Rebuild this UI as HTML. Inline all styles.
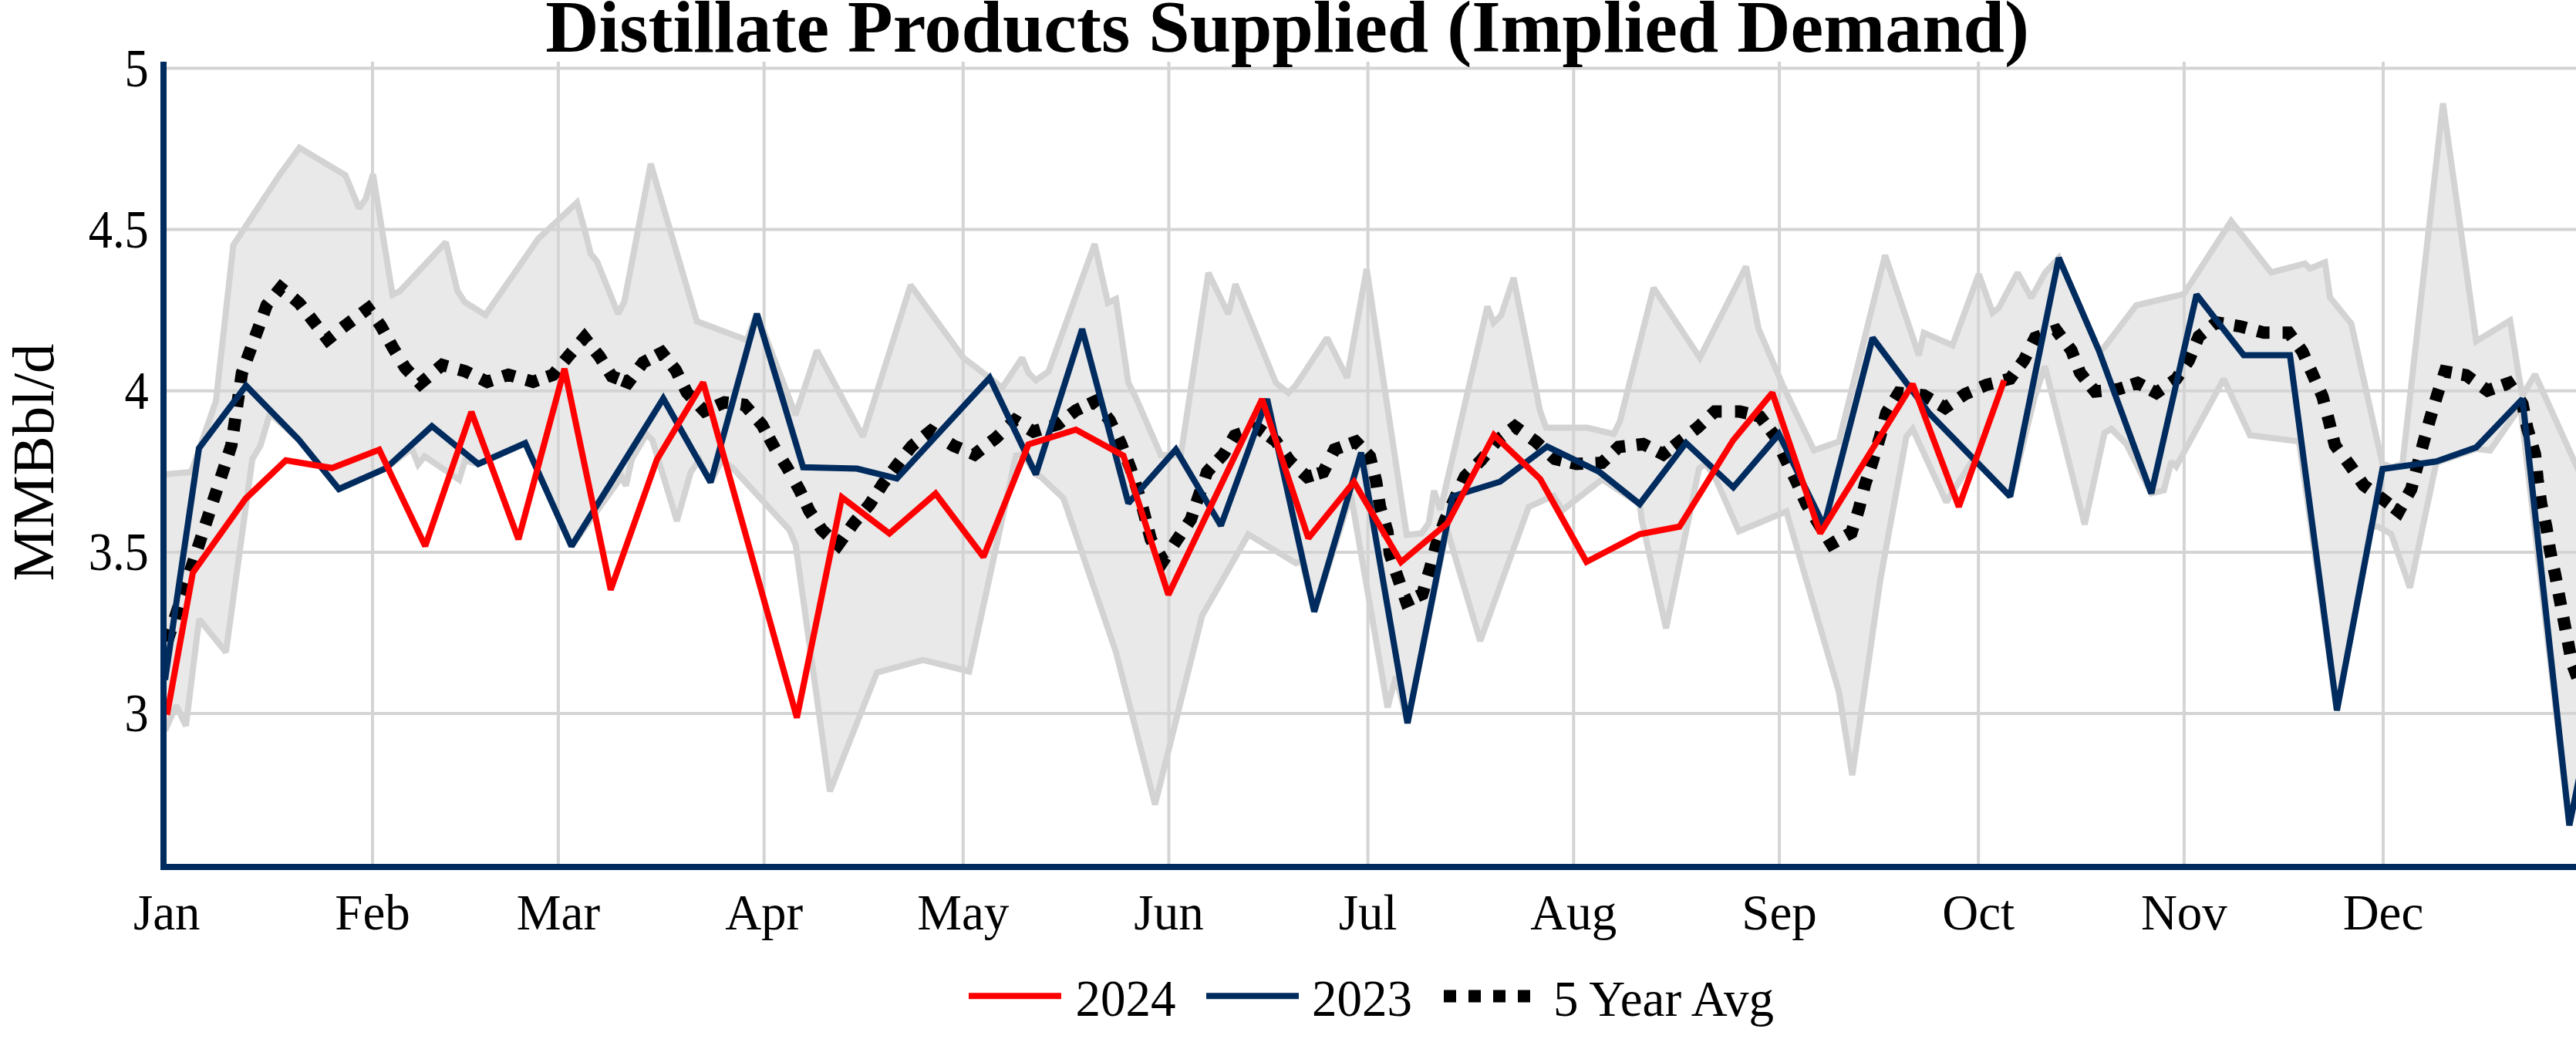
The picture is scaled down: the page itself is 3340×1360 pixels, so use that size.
<!DOCTYPE html>
<html><head><meta charset="utf-8"><style>html,body{margin:0;padding:0;background:#fff;overflow:hidden}svg{display:block}</style></head><body>
<svg width="3340" height="1360" viewBox="0 0 3340 1360">
<rect width="3340" height="1360" fill="#ffffff"/>
<defs><clipPath id="pc"><rect x="216" y="80" width="3124" height="1040"/></clipPath></defs>
<path d="M483.0,80 V1120 M723.9,80 V1120 M990.7,80 V1120 M1248.8,80 V1120 M1515.5,80 V1120 M1773.6,80 V1120 M2040.3,80 V1120 M2307.1,80 V1120 M2565.2,80 V1120 M2831.9,80 V1120 M3090.0,80 V1120 M216,88.4 H3340 M216,297.6 H3340 M216,506.7 H3340 M216,715.9 H3340 M216,925.0 H3340" stroke="#d4d4d4" stroke-width="4" fill="none"/>
<g clip-path="url(#pc)">
<path d="M214.0,615.0 L248.0,612.0 L280.0,520.0 L302.5,317.8 L362.1,227.2 L388.3,191.5 L447.9,227.2 L465.5,270.1 L474.1,258.2 L483.6,225.8 L508.9,382.2 L518.4,377.4 L578.0,314.0 L593.2,377.4 L602.8,391.7 L629.4,408.4 L697.8,309.6 L748.1,262.6 L759.4,303.1 L765.9,329.1 L774.0,338.8 L801.5,406.9 L809.6,390.6 L843.7,212.4 L903.6,416.6 L968.4,440.9 L981.4,406.9 L1031.5,538.0 L1059.2,454.4 L1118.7,566.0 L1180.7,369.6 L1249.2,463.9 L1283.2,489.8 L1299.4,502.8 L1325.3,463.9 L1333.4,483.3 L1343.1,493.0 L1359.4,481.7 L1419.3,316.4 L1436.5,392.6 L1446.9,387.7 L1463.0,496.3 L1472.8,515.7 L1505.2,590.0 L1531.0,590.0 L1566.8,353.7 L1592.7,407.2 L1601.8,368.3 L1654.3,496.3 L1670.5,509.3 L1680.2,499.5 L1720.7,438.0 L1746.6,489.8 L1772.0,348.8 L1823.9,693.4 L1843.0,691.5 L1852.5,678.2 L1859.3,636.2 L1867.7,661.0 L1928.5,397.5 L1936.6,418.5 L1946.3,408.8 L1962.5,360.2 L1996.6,532.0 L2004.7,554.6 L2058.1,554.6 L2092.2,562.7 L2100.3,546.5 L2144.0,373.2 L2204.0,463.9 L2263.9,345.6 L2280.2,426.6 L2313.0,502.8 L2351.9,583.8 L2384.3,572.5 L2444.2,331.0 L2488.0,460.6 L2494.4,431.5 L2531.7,447.7 L2565.7,355.3 L2583.6,405.6 L2591.7,399.0 L2616.0,353.7 L2633.8,386.1 L2651.6,353.7 L2669.4,334.3 L2721.3,454.2 L2727.8,451.0 L2769.9,395.8 L2831.5,381.3 L2892.9,286.7 L2944.8,353.1 L2988.6,341.8 L2995.1,348.3 L3014.5,340.2 L3021.0,385.6 L3048.6,419.6 L3089.0,601.0 L3100.0,606.0 L3115.0,601.5 L3167.5,134.0 L3210.7,442.3 L3254.5,415.6 L3265.8,487.0 L3270.7,513.0 L3286.9,485.3 L3350.0,625.0 L3350.0,980.0 L3331.4,1070.0 L3268.0,527.0 L3257.7,542.0 L3228.6,584.0 L3210.6,582.0 L3158.8,600.0 L3124.7,762.0 L3100.4,692.3 L3082.6,682.6 L3074.0,683.0 L3030.0,921.0 L2981.0,572.4 L2917.3,564.3 L2883.2,491.3 L2821.7,604.8 L2815.3,598.3 L2805.6,635.6 L2789.4,639.5 L2757.0,575.6 L2737.6,556.1 L2728.6,561.3 L2702.9,679.8 L2651.4,475.0 L2638.0,515.0 L2606.3,643.6 L2559.3,594.0 L2523.6,651.0 L2479.9,556.0 L2471.8,566.0 L2438.0,751.3 L2401.6,1005.0 L2384.3,897.0 L2316.2,663.1 L2254.5,688.7 L2223.0,617.2 L2211.6,601.5 L2203.0,607.2 L2160.2,814.5 L2128.7,674.4 L2126.0,653.5 L2077.2,621.5 L2025.8,661.5 L2014.3,642.9 L1982.1,657.2 L1919.2,831.0 L1876.0,686.0 L1825.0,937.5 L1810.0,877.0 L1799.1,917.0 L1751.5,641.0 L1704.0,793.0 L1688.0,727.0 L1680.2,730.1 L1618.6,692.9 L1558.6,798.3 L1497.6,1043.0 L1446.9,845.2 L1378.8,645.9 L1349.6,618.3 L1343.1,615.1 L1327.0,589.2 L1317.2,590.8 L1256.6,870.5 L1196.9,855.6 L1137.0,871.8 L1076.0,1026.0 L1031.6,706.3 L1023.5,686.9 L949.0,605.8 L936.0,596.0 L921.4,625.3 L906.9,596.1 L895.5,612.3 L877.7,675.5 L845.9,570.5 L838.3,562.9 L819.2,595.3 L811.6,629.6 L805.9,618.1 L741.0,708.2 L681.0,574.5 L620.2,601.5 L602.9,597.2 L595.3,622.0 L550.6,591.6 L542.2,602.1 L533.8,581.2 L500.3,607.2 L439.4,634.0 L387.0,569.6 L350.0,536.0 L337.5,578.0 L327.2,595.0 L292.9,845.6 L258.2,802.7 L241.0,941.0 L228.6,914.7 L214.0,947.0 Z" fill="#d3d3d3" fill-opacity="0.5" stroke="none"/>
<path d="M214.0,615.0 L248.0,612.0 L280.0,520.0 L302.5,317.8 L362.1,227.2 L388.3,191.5 L447.9,227.2 L465.5,270.1 L474.1,258.2 L483.6,225.8 L508.9,382.2 L518.4,377.4 L578.0,314.0 L593.2,377.4 L602.8,391.7 L629.4,408.4 L697.8,309.6 L748.1,262.6 L759.4,303.1 L765.9,329.1 L774.0,338.8 L801.5,406.9 L809.6,390.6 L843.7,212.4 L903.6,416.6 L968.4,440.9 L981.4,406.9 L1031.5,538.0 L1059.2,454.4 L1118.7,566.0 L1180.7,369.6 L1249.2,463.9 L1283.2,489.8 L1299.4,502.8 L1325.3,463.9 L1333.4,483.3 L1343.1,493.0 L1359.4,481.7 L1419.3,316.4 L1436.5,392.6 L1446.9,387.7 L1463.0,496.3 L1472.8,515.7 L1505.2,590.0 L1531.0,590.0 L1566.8,353.7 L1592.7,407.2 L1601.8,368.3 L1654.3,496.3 L1670.5,509.3 L1680.2,499.5 L1720.7,438.0 L1746.6,489.8 L1772.0,348.8 L1823.9,693.4 L1843.0,691.5 L1852.5,678.2 L1859.3,636.2 L1867.7,661.0 L1928.5,397.5 L1936.6,418.5 L1946.3,408.8 L1962.5,360.2 L1996.6,532.0 L2004.7,554.6 L2058.1,554.6 L2092.2,562.7 L2100.3,546.5 L2144.0,373.2 L2204.0,463.9 L2263.9,345.6 L2280.2,426.6 L2313.0,502.8 L2351.9,583.8 L2384.3,572.5 L2444.2,331.0 L2488.0,460.6 L2494.4,431.5 L2531.7,447.7 L2565.7,355.3 L2583.6,405.6 L2591.7,399.0 L2616.0,353.7 L2633.8,386.1 L2651.6,353.7 L2669.4,334.3 L2721.3,454.2 L2727.8,451.0 L2769.9,395.8 L2831.5,381.3 L2892.9,286.7 L2944.8,353.1 L2988.6,341.8 L2995.1,348.3 L3014.5,340.2 L3021.0,385.6 L3048.6,419.6 L3089.0,601.0 L3100.0,606.0 L3115.0,601.5 L3167.5,134.0 L3210.7,442.3 L3254.5,415.6 L3265.8,487.0 L3270.7,513.0 L3286.9,485.3 L3350.0,625.0" stroke="#d3d3d3" stroke-width="8" fill="none" stroke-linejoin="miter" stroke-miterlimit="2"/>
<path d="M214.0,947.0 L228.6,914.7 L241.0,941.0 L258.2,802.7 L292.9,845.6 L327.2,595.0 L337.5,578.0 L350.0,536.0 L387.0,569.6 L439.4,634.0 L500.3,607.2 L533.8,581.2 L542.2,602.1 L550.6,591.6 L595.3,622.0 L602.9,597.2 L620.2,601.5 L681.0,574.5 L741.0,708.2 L805.9,618.1 L811.6,629.6 L819.2,595.3 L838.3,562.9 L845.9,570.5 L877.7,675.5 L895.5,612.3 L906.9,596.1 L921.4,625.3 L936.0,596.0 L949.0,605.8 L1023.5,686.9 L1031.6,706.3 L1076.0,1026.0 L1137.0,871.8 L1196.9,855.6 L1256.6,870.5 L1317.2,590.8 L1327.0,589.2 L1343.1,615.1 L1349.6,618.3 L1378.8,645.9 L1446.9,845.2 L1497.6,1043.0 L1558.6,798.3 L1618.6,692.9 L1680.2,730.1 L1688.0,727.0 L1704.0,793.0 L1751.5,641.0 L1799.1,917.0 L1810.0,877.0 L1825.0,937.5 L1876.0,686.0 L1919.2,831.0 L1982.1,657.2 L2014.3,642.9 L2025.8,661.5 L2077.2,621.5 L2126.0,653.5 L2128.7,674.4 L2160.2,814.5 L2203.0,607.2 L2211.6,601.5 L2223.0,617.2 L2254.5,688.7 L2316.2,663.1 L2384.3,897.0 L2401.6,1005.0 L2438.0,751.3 L2471.8,566.0 L2479.9,556.0 L2523.6,651.0 L2559.3,594.0 L2606.3,643.6 L2638.0,515.0 L2651.4,475.0 L2702.9,679.8 L2728.6,561.3 L2737.6,556.1 L2757.0,575.6 L2789.4,639.5 L2805.6,635.6 L2815.3,598.3 L2821.7,604.8 L2883.2,491.3 L2917.3,564.3 L2981.0,572.4 L3030.0,921.0 L3074.0,683.0 L3082.6,682.6 L3100.4,692.3 L3124.7,762.0 L3158.8,600.0 L3210.6,582.0 L3228.6,584.0 L3257.7,542.0 L3268.0,527.0 L3331.4,1070.0 L3350.0,980.0" stroke="#d3d3d3" stroke-width="8" fill="none" stroke-linejoin="miter" stroke-miterlimit="2"/>
<path d="M216.6,832.0 L221.6,816.8 M226.6,801.6 L231.5,786.4 M236.5,771.2 L241.5,756.0 M246.5,740.8 L251.5,725.6 M256.4,710.4 L261.4,695.2 M266.4,679.9 L271.4,664.7 M276.3,649.8 L281.3,634.6 M286.4,618.9 L291.4,603.7 M296.2,589.0 L300.0,577.3 L300.5,573.7 M302.8,558.5 L305.1,542.6 M307.3,527.4 L309.6,511.6 M311.8,496.3 L313.7,483.5 L314.7,480.7 M320.0,466.2 L325.5,451.2 M330.8,436.7 L335.5,424.0 L336.3,421.7 M341.6,407.2 L345.8,395.5 L348.0,392.8 M357.7,380.8 L364.0,373.0 L368.6,376.8 M380.4,386.7 L388.1,393.2 L391.7,397.9 M401.2,410.0 L411.0,422.6 M420.5,434.7 L424.7,440.1 L431.9,434.4 M444.1,424.9 L451.0,419.5 L456.8,415.2 M469.1,406.1 L477.3,400.0 L480.8,404.7 M489.9,417.1 L493.3,421.8 L498.3,430.7 M505.4,443.4 L509.3,450.4 L513.5,457.2 M521.8,471.0 L525.3,476.7 L531.7,483.5 M542.6,495.0 L544.8,497.3 L554.6,489.1 M566.6,478.9 L573.4,473.2 L580.3,475.1 M594.7,479.0 L603.1,481.3 L609.7,484.5 M623.2,490.9 L631.7,495.0 L637.9,492.9 M652.1,488.2 L659.2,485.8 L667.4,488.2 M682.2,492.4 L691.2,495.0 L697.4,492.8 M709.4,488.6 L717.0,486.0 L722.1,479.8 M731.5,468.3 L736.7,462.0 L741.8,456.1 M752.6,443.7 L757.8,437.6 L762.8,443.9 M771.9,455.4 L777.2,462.0 L781.2,468.4 M789.5,481.7 L793.4,487.9 L801.5,491.0 M807.0,493.1 L814.5,496.0 L819.3,489.6 M829.0,476.6 L833.9,470.0 L840.7,466.4 M851.1,460.9 L858.2,457.1 L863.2,463.4 M871.7,474.2 L876.1,479.8 L880.0,487.7 M887.0,501.7 L890.6,508.9 L896.1,514.7 M907.0,526.2 L913.3,532.9 L919.5,530.2 M929.2,526.0 L939.3,521.6 L944.3,522.2 M960.6,524.2 L965.2,524.8 L972.7,533.3 M982.8,544.9 L987.9,550.7 L991.9,558.0 M997.4,568.0 L1004.0,580.0 L1005.2,582.0 M1015.0,597.4 L1020.3,605.8 L1023.3,611.1 M1032.1,627.1 L1036.5,635.0 L1039.5,641.3 M1045.6,654.4 L1049.4,662.5 L1053.3,668.3 M1062.4,682.0 L1065.6,686.9 L1073.1,693.8 M1083.7,703.6 L1086.7,706.3 L1093.7,696.6 M1102.2,684.9 L1107.8,677.1 L1112.0,672.2 M1122.3,660.2 L1127.2,654.4 L1131.8,647.3 M1139.4,635.6 L1145.0,626.9 L1148.4,622.4 M1157.3,610.6 L1164.5,601.0 L1167.0,597.9 M1176.0,586.3 L1182.3,578.3 L1186.9,574.6 M1198.3,565.4 L1206.6,558.8 L1211.2,561.7 M1231.1,574.6 L1236.2,577.8 L1245.4,581.6 M1258.8,587.1 L1263.7,589.2 L1272.1,582.7 M1284.3,573.2 L1291.3,567.8 L1296.5,562.9 M1308.2,551.9 L1315.6,545.0 L1320.7,548.0 M1334.1,556.1 L1339.9,559.5 L1348.8,556.8 M1362.4,552.8 L1372.3,549.8 L1376.8,546.3 M1387.9,537.5 L1395.0,532.0 L1401.4,529.0 M1411.9,524.1 L1419.3,520.6 L1424.2,526.7 M1434.5,539.6 L1438.8,545.0 L1442.7,553.2 M1449.9,567.9 L1453.3,575.0 L1456.2,582.6 M1461.8,596.9 L1466.3,608.6 L1467.3,611.9 M1472.0,626.6 L1476.8,641.9 M1481.5,658.3 L1485.5,673.8 M1489.1,687.6 L1492.2,699.4 L1494.1,702.7 M1503.0,717.8 L1508.4,726.9 L1511.3,722.4 M1521.9,706.2 L1526.3,699.4 L1530.7,692.9 M1539.6,680.0 L1544.1,673.4 L1546.6,665.8 M1551.4,651.5 L1553.8,644.3 L1556.6,636.3 M1562.5,619.5 L1565.1,611.9 L1570.5,606.0 M1579.6,596.3 L1586.2,589.2 L1589.5,583.8 M1597.2,570.8 L1600.8,564.9 L1609.3,561.9 M1624.6,556.5 L1630.0,554.6 L1638.4,560.6 M1645.7,565.8 L1654.3,572.0 L1657.4,576.4 M1666.7,589.7 L1672.1,597.3 L1677.0,601.8 M1688.4,612.4 L1694.8,618.3 L1701.8,616.2 M1708.8,614.0 L1715.8,611.9 L1719.7,604.1 M1727.4,588.6 L1730.4,582.7 L1739.2,579.5 M1750.5,575.3 L1758.0,572.5 L1763.5,578.3 M1771.8,587.2 L1776.2,591.9 L1778.5,601.1 M1782.3,616.2 L1784.3,624.3 L1785.4,631.9 M1787.8,647.4 L1789.2,656.7 L1791.1,663.0 M1795.9,679.0 L1798.9,689.1 L1799.5,694.5 M1801.2,710.4 L1802.1,718.2 L1804.7,725.9 M1809.9,741.6 L1811.9,747.4 L1815.1,756.7 M1820.9,773.1 L1823.2,779.8 L1831.3,776.1 M1837.9,773.0 L1844.3,770.1 L1846.9,761.5 M1851.4,746.4 L1854.0,737.7 L1855.8,731.0 M1859.9,715.3 L1862.1,706.9 L1864.5,700.0 M1869.9,684.4 L1873.4,674.5 L1875.7,669.5 M1882.4,654.9 L1889.0,640.4 M1895.7,625.8 L1899.4,617.8 L1904.5,612.7 M1915.2,601.9 L1920.4,596.7 L1925.9,590.0 M1936.4,577.0 L1941.5,570.8 L1947.8,565.9 M1958.8,557.2 L1964.2,553.0 L1971.6,558.3 M1985.3,568.2 L1991.5,572.6 L1997.7,578.3 M2010.6,590.1 L2016.0,595.0 L2024.5,597.0 M2036.7,599.8 L2044.0,601.5 L2052.5,601.1 M2068.7,600.4 L2077.0,600.0 L2082.6,594.7 M2093.2,584.7 L2098.7,579.5 L2107.1,578.5 M2122.0,576.7 L2130.5,575.7 L2137.2,579.1 M2149.4,585.4 L2156.5,589.0 L2162.8,584.1 M2169.7,578.7 L2177.5,572.6 L2182.3,568.9 M2195.3,558.8 L2200.7,554.6 L2207.4,548.4 M2218.2,538.4 L2223.4,533.6 L2232.3,533.6 M2249.6,533.6 L2255.8,533.6 L2265.3,535.9 M2275.8,538.5 L2281.8,540.0 L2287.8,547.8 M2295.4,557.7 L2301.0,565.0 L2303.9,571.1 M2311.1,586.8 L2314.6,594.3 L2318.0,601.3 M2325.0,615.8 L2330.0,626.0 L2331.9,630.3 M2337.8,643.8 L2342.0,653.4 L2344.9,658.1 M2353.4,671.5 L2361.8,685.1 M2370.3,698.5 L2374.5,705.3 L2381.5,701.4 M2393.5,694.6 L2400.5,690.7 L2402.9,683.1 M2407.9,667.3 L2410.2,659.9 L2412.2,651.9 M2416.4,635.0 L2418.3,627.5 L2420.9,619.7 M2425.4,606.1 L2428.0,598.3 L2430.2,590.8 M2434.8,575.6 L2437.7,565.9 L2439.2,560.2 M2443.3,544.8 L2445.8,535.2 L2449.0,530.1 M2456.6,518.0 L2462.0,509.3 L2467.8,509.9 M2489.0,512.0 L2494.4,512.5 L2503.5,517.9 M2515.1,524.7 L2522.0,528.7 L2528.6,524.2 M2541.3,515.5 L2548.0,510.9 L2555.2,507.8 M2568.3,502.1 L2575.5,499.0 L2583.4,497.0 M2598.3,493.1 L2606.3,491.0 L2610.9,484.8 M2619.4,473.4 L2624.1,467.1 L2627.8,459.8 M2635.1,445.2 L2638.7,438.0 L2646.2,435.3 M2660.7,430.1 L2666.2,428.2 L2672.3,436.4 M2681.8,449.0 L2685.7,454.2 L2689.1,463.0 M2694.9,477.8 L2697.0,483.3 L2703.3,491.2 M2711.5,501.4 L2716.5,507.6 L2724.5,506.8 M2737.9,505.4 L2747.2,504.4 L2753.5,502.3 M2763.9,498.8 L2771.5,496.3 L2778.6,500.1 M2789.0,505.7 L2795.8,509.3 L2802.7,504.6 M2814.6,496.3 L2821.7,491.4 L2825.8,485.3 M2834.4,472.5 L2838.0,467.1 L2841.7,458.4 M2847.6,444.2 L2850.9,436.3 L2856.7,431.6 M2868.1,422.4 L2873.5,418.0 L2882.5,419.5 M2896.9,421.8 L2904.3,423.0 L2912.5,425.2 M2926.9,429.1 L2935.1,431.3 L2942.6,431.3 M2959.6,431.3 L2967.5,431.3 L2972.3,437.8 M2981.2,450.1 L2985.3,455.7 L2989.0,464.0 M2995.5,478.6 L2998.3,484.8 L3002.0,493.2 M3008.3,507.3 L3011.3,514.0 L3013.5,522.4 M3017.9,539.1 L3019.4,544.8 L3021.8,554.6 M3025.3,568.5 L3027.5,577.2 L3031.7,582.9 M3041.9,596.4 L3046.9,603.2 L3051.2,609.4 M3060.2,622.4 L3064.8,629.1 L3071.2,633.8 M3084.3,643.4 L3089.1,646.9 L3097.1,653.0 M3103.9,658.2 L3110.2,663.1 L3114.1,656.1 M3121.9,642.0 L3126.4,634.0 L3128.1,627.4 M3132.2,612.0 L3136.3,596.5 M3140.3,581.1 L3142.6,572.4 L3144.5,565.7 M3148.8,550.2 L3150.7,543.2 L3153.2,534.8 M3157.7,519.7 L3160.4,510.8 L3162.5,504.5 M3167.9,488.4 L3170.1,481.6 L3178.8,483.2 M3191.9,485.5 L3197.7,486.5 L3205.9,492.4 M3218.8,501.7 L3225.3,506.3 L3232.9,503.6 M3244.5,499.6 L3252.9,496.6 L3256.8,502.5 M3267.5,518.9 L3270.6,523.7 L3272.6,533.8 M3275.7,549.2 L3277.1,556.2 L3279.7,564.7 M3283.7,578.2 L3286.8,588.6 L3287.3,593.7 M3289.1,610.8 L3290.1,621.0 L3290.9,626.7 M3293.4,643.0 L3294.9,653.4 L3296.1,658.8 M3299.7,674.9 L3301.4,682.6 L3302.7,690.6 M3305.2,706.4 L3306.3,713.4 L3308.1,722.1 M3311.4,737.8 L3312.8,744.2 L3314.6,753.5 M3317.5,769.2 L3320.5,784.9 M3323.5,800.6 L3326.5,816.4 M3329.5,832.1 L3332.5,847.8 M3336.1,863.3 L3341.8,878.3 M3347.4,893.3 L3350.0,900.0" stroke="#000000" stroke-width="16" fill="none" stroke-linejoin="miter" stroke-miterlimit="2"/>
<path d="M214.0,881.3 L258.0,581.0 L319.0,500.0 L387.0,569.6 L439.4,634.0 L500.3,607.2 L560.0,552.5 L620.2,601.5 L681.0,574.5 L741.0,708.2 L860.0,516.7 L921.4,625.3 L981.4,406.9 L1041.3,605.8 L1111.0,607.5 L1162.9,620.4 L1283.2,489.8 L1343.1,615.1 L1403.1,426.6 L1463.0,652.4 L1524.6,582.7 L1583.0,681.5 L1642.9,517.4 L1704.0,793.0 L1764.8,586.8 L1825.0,937.5 L1883.5,643.5 L1945.0,624.5 L2006.0,578.8 L2074.0,612.0 L2126.0,653.5 L2186.0,574.2 L2247.4,631.8 L2306.5,562.8 L2365.0,682.0 L2428.0,438.0 L2500.9,535.2 L2606.3,643.6 L2669.4,334.3 L2721.3,454.2 L2789.4,639.5 L2848.0,382.0 L2909.2,460.5 L2969.1,460.5 L3030.0,921.0 L3089.1,608.0 L3158.8,598.3 L3210.6,580.0 L3270.6,517.3 L3331.4,1070.0 L3350.0,980.0" stroke="#002b5e" stroke-width="8" fill="none" stroke-linejoin="miter" stroke-miterlimit="2"/>
<path d="M216.5,926.7 L250.0,742.5 L318.5,646.5 L370.6,596.8 L430.5,606.8 L491.7,583.0 L551.3,708.0 L611.2,534.0 L672.2,699.2 L731.9,478.0 L791.8,764.6 L851.7,596.0 L911.7,495.8 L1033.2,930.5 L1091.6,644.7 L1153.2,691.7 L1213.1,639.9 L1275.1,722.0 L1333.4,576.2 L1395.0,557.0 L1456.6,590.8 L1514.9,771.0 L1636.4,517.4 L1696.4,697.7 L1755.5,624.8 L1816.5,728.7 L1877.0,678.0 L1937.0,564.0 L1997.0,621.0 L2057.0,728.5 L2126.0,692.5 L2177.5,682.8 L2247.0,571.0 L2298.0,509.3 L2360.0,691.5 L2479.9,497.9 L2539.8,657.0 L2598.6,493.1" stroke="#ff0000" stroke-width="8" fill="none" stroke-linejoin="miter" stroke-miterlimit="2"/>
</g>
<rect x="208" y="80" width="8" height="1048" fill="#002b5e"/>
<rect x="208" y="1120" width="3132" height="8" fill="#002b5e"/>
<text transform="translate(192.8,111.8) scale(0.96,1.065)" font-family="Liberation Serif, serif" font-size="65" text-anchor="end">5</text>
<text transform="translate(192.8,320.9) scale(0.96,1.065)" font-family="Liberation Serif, serif" font-size="65" text-anchor="end">4.5</text>
<text transform="translate(192.8,530.1) scale(0.96,1.065)" font-family="Liberation Serif, serif" font-size="65" text-anchor="end">4</text>
<text transform="translate(192.8,739.2) scale(0.96,1.065)" font-family="Liberation Serif, serif" font-size="65" text-anchor="end">3.5</text>
<text transform="translate(192.8,948.4) scale(0.96,1.065)" font-family="Liberation Serif, serif" font-size="65" text-anchor="end">3</text>
<text x="216.3" y="1205" font-family="Liberation Serif, serif" font-size="65" text-anchor="middle">Jan</text>
<text x="483.0" y="1205" font-family="Liberation Serif, serif" font-size="65" text-anchor="middle">Feb</text>
<text x="723.9" y="1205" font-family="Liberation Serif, serif" font-size="65" text-anchor="middle">Mar</text>
<text x="990.7" y="1205" font-family="Liberation Serif, serif" font-size="65" text-anchor="middle">Apr</text>
<text x="1248.8" y="1205" font-family="Liberation Serif, serif" font-size="65" text-anchor="middle">May</text>
<text x="1515.5" y="1205" font-family="Liberation Serif, serif" font-size="65" text-anchor="middle">Jun</text>
<text x="1773.6" y="1205" font-family="Liberation Serif, serif" font-size="65" text-anchor="middle">Jul</text>
<text x="2040.3" y="1205" font-family="Liberation Serif, serif" font-size="65" text-anchor="middle">Aug</text>
<text x="2307.1" y="1205" font-family="Liberation Serif, serif" font-size="65" text-anchor="middle">Sep</text>
<text x="2565.2" y="1205" font-family="Liberation Serif, serif" font-size="65" text-anchor="middle">Oct</text>
<text x="2831.9" y="1205" font-family="Liberation Serif, serif" font-size="65" text-anchor="middle">Nov</text>
<text x="3090.0" y="1205" font-family="Liberation Serif, serif" font-size="65" text-anchor="middle">Dec</text>
<text x="1669" y="67" font-family="Liberation Serif, serif" font-size="96" font-weight="bold" text-anchor="middle">Distillate Products Supplied (Implied Demand)</text>
<text transform="translate(68.7,599.5) rotate(-90)" font-family="Liberation Serif, serif" font-size="77" text-anchor="middle">MMBbl/d</text>
<path d="M1256,1291.3 H1376" stroke="#ff0000" stroke-width="8"/>
<text transform="translate(1394.5,1317) scale(1,1.05)" font-family="Liberation Serif, serif" font-size="65">2024</text>
<path d="M1564,1291.3 H1684" stroke="#002b5e" stroke-width="8"/>
<text transform="translate(1701,1317) scale(1,1.05)" font-family="Liberation Serif, serif" font-size="65">2023</text>
<path d="M1872,1291.6 H1984" stroke="#000" stroke-width="16" stroke-dasharray="16,16"/>
<text x="2014" y="1317" font-family="Liberation Serif, serif" font-size="65">5 Year Avg</text>
</svg>
</body></html>
